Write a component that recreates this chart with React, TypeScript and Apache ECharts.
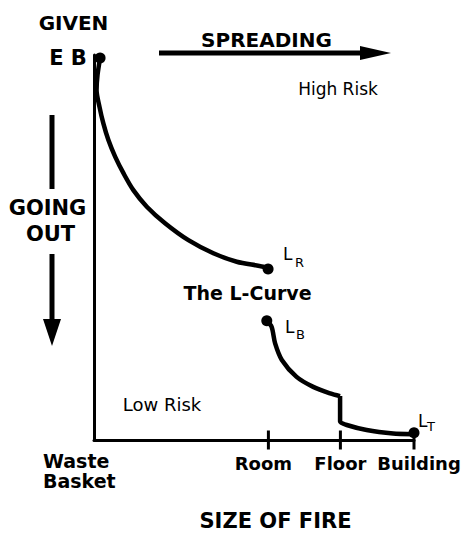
import React, { useEffect, useRef } from "react";
import * as echarts from "echarts";

// Axis ticks (size of fire) and their labels
const tickValues = [0, 54.5, 77, 100];
const tickLabels = ["Waste\nBasket", "Room", "Floor", "Building"];
const tickMarkValues = [54.5, 77, 100];

// Upper branch of the L-curve: from E B down to L_R
const curveUpper: number[][] = [
  [1.9, 99.2],
  [1.1, 94.8],
  [0.8, 90.9],
  [1.7, 86.6],
  [2.9, 82.3],
  [4.5, 77.9],
  [6.6, 73.6],
  [9.2, 69.3],
  [12.3, 64.9],
  [16.5, 60.6],
  [22.2, 56.3],
  [29.5, 51.9],
  [37.3, 48.5],
  [44.6, 46.3],
  [52.9, 45.0],
  [54.4, 44.4],
];

// Lower branch: from L_B to the floor step
const curveLowerA: number[][] = [
  [54.0, 31.0],
  [55.5, 29.4],
  [56.6, 25.1],
  [58.7, 20.8],
  [63.3, 16.4],
  [68.5, 13.8],
  [73.8, 12.1],
  [76.9, 11.4],
];

// Lower branch: floor step to L_T
const curveLowerB: number[][] = [
  [76.9, 11.4],
  [76.9, 4.8],
  [79.0, 3.9],
  [85.2, 2.6],
  [93.5, 1.7],
  [99.8, 1.5],
];

// Marked end points: E B, L_R, L_B, L_T
const endpointsX = [1.9, 54.4, 54.0, 100];
const endpointsY = [99.2, 44.4, 31.0, 1.9];

const FONT = "DejaVu Sans";

function txt(text: string, x: number, y: number, size: number, bold: boolean, align = "center") {
  return {
    type: "text",
    x,
    y,
    silent: true,
    style: {
      text,
      fill: "#000",
      font: `${bold ? "bold " : ""}${size}px "${FONT}"`,
      align,
      verticalAlign: "middle",
    },
  };
}

export default function App() {
  const ref = useRef<HTMLDivElement>(null);

  useEffect(() => {
    if (!ref.current) return;
    const chart = echarts.init(ref.current, null, { renderer: "svg" });

    const base = {
      fontFamily: FONT,
      fontWeight: "bold",
      fontSize: 18,
      color: "#000",
    };

    const keyFor = ["wb", "rm", "fl", "bd"];

    const option: any = {
      animation: false,
      backgroundColor: "#fff",
      grid: { left: 94, top: 55, width: 320, height: 385 },
      xAxis: {
        type: "value",
        min: 0,
        max: 100,
        axisLine: { show: true, onZero: false, lineStyle: { color: "#000", width: 3 } },
        axisTick: { show: false },
        splitLine: { show: false },
        axisLabel: {
          show: true,
          customValues: tickValues,
          showMinLabel: true,
          showMaxLabel: true,
          hideOverlap: false,
          interval: 0,
          margin: 11,
          formatter: (v: number) => {
            const i = tickValues.findIndex((t) => Math.abs(t - v) < 0.01);
            if (i < 0) return "";
            const k = keyFor[i];
            return tickLabels[i]
              .split("\n")
              .map((s) => `{${k}|${s}}`)
              .join("\n");
          },
          rich: {
            wb: { ...base, fontSize: 19, lineHeight: 20, width: 75, align: "left", padding: [0, 27, 0, 0] },
            rm: { ...base, lineHeight: 19, padding: [5, 10, 0, 0] },
            fl: { ...base, lineHeight: 19, padding: [5, 0, 0, 0] },
            bd: { ...base, lineHeight: 19, padding: [5, 0, 0, 10] },
          },
        },
      },
      yAxis: {
        type: "value",
        min: 0,
        max: 100,
        axisLine: { show: true, onZero: false, lineStyle: { color: "#000", width: 3 } },
        axisTick: { show: false },
        axisLabel: { show: false },
        splitLine: { show: false },
      },
      series: [
        {
          type: "line",
          data: curveUpper,
          smooth: 0.3,
          symbol: "none",
          clip: false,
          lineStyle: { color: "#000", width: 4.5 },
        },
        {
          type: "line",
          data: curveLowerA,
          smooth: 0.3,
          symbol: "none",
          clip: false,
          lineStyle: { color: "#000", width: 4.5 },
        },
        {
          type: "line",
          data: curveLowerB,
          smooth: 0.2,
          symbol: "none",
          clip: false,
          lineStyle: { color: "#000", width: 4.5 },
        },
        {
          type: "scatter",
          data: tickMarkValues.map((v) => [v, 0]),
          symbol: "rect",
          symbolSize: [3, 19],
          clip: false,
          itemStyle: { color: "#000", opacity: 1 },
        },
        {
          type: "scatter",
          data: endpointsX.map((x, i) => [x, endpointsY[i]]),
          symbol: "circle",
          symbolSize: 11,
          clip: false,
          itemStyle: { color: "#000", opacity: 1 },
        },
      ],
      graphic: [
        txt("GIVEN", 73.5, 22.5, 20, true),
        txt("E B", 68, 57.5, 21, true),
        txt("SPREADING", 266.5, 40, 20, true),
        txt("High Risk", 338, 89, 17, false),
        txt("GOING", 47.5, 208, 21, true),
        txt("OUT", 50.5, 234, 21, true),
        txt("The L-Curve", 247.5, 292.5, 19, true),
        txt("Low Risk", 162, 404, 18, false),
        txt("SIZE OF FIRE", 275.5, 520.5, 21, true),
        txt("L", 283, 253.5, 17, false, "left"),
        txt("R", 295, 262, 13, false, "left"),
        txt("L", 285, 327, 17, false, "left"),
        txt("B", 296, 334, 13, false, "left"),
        txt("L", 418, 421, 17, false, "left"),
        txt("T", 427, 426, 13, false, "left"),
        // SPREADING arrow
        {
          type: "line",
          silent: true,
          shape: { x1: 159, y1: 53, x2: 372, y2: 53 },
          style: { stroke: "#000", lineWidth: 5 },
        },
        {
          type: "polygon",
          silent: true,
          shape: { points: [[360, 46], [391, 53], [360, 60]] },
          style: { fill: "#000" },
        },
        // GOING OUT arrow
        {
          type: "line",
          silent: true,
          shape: { x1: 52, y1: 115, x2: 52, y2: 189 },
          style: { stroke: "#000", lineWidth: 5 },
        },
        {
          type: "line",
          silent: true,
          shape: { x1: 52, y1: 254, x2: 52, y2: 325 },
          style: { stroke: "#000", lineWidth: 5 },
        },
        {
          type: "polygon",
          silent: true,
          shape: { points: [[43, 319], [52, 346], [61, 319]] },
          style: { fill: "#000" },
        },
      ],
    };

    chart.setOption(option);
    return () => chart.dispose();
  }, []);

  return (
    <div
      ref={ref}
      style={{ position: "absolute", left: 0, top: 0, width: 466, height: 533 }}
    />
  );
}
